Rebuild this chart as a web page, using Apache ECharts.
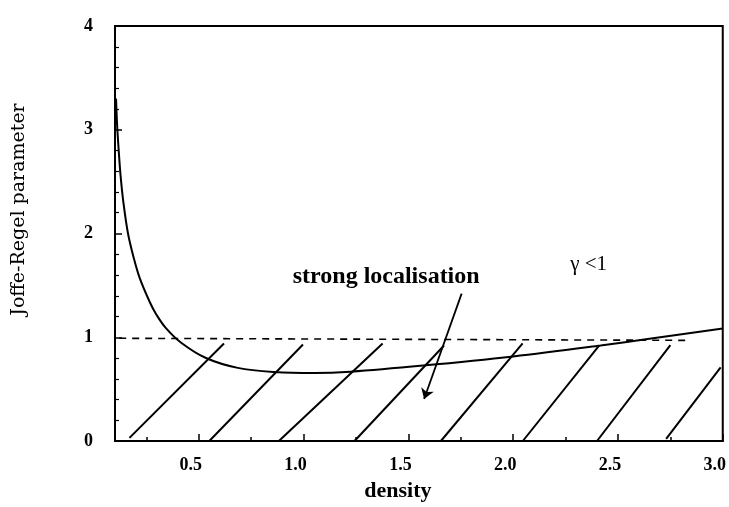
<!DOCTYPE html>
<html><head><meta charset="utf-8">
<script src="https://cdn.jsdelivr.net/npm/echarts@6/dist/echarts.min.js"></script>
<style>html,body{margin:0;padding:0;background:#fff}#c{width:729px;height:507px}</style>
</head><body><div id="c"></div>
<script>
// Joffe-Regel parameter versus density
const curveX = [0.105, 0.11, 0.117, 0.127, 0.14, 0.162, 0.19, 0.218, 0.268, 0.297, 0.342, 0.414, 0.534, 0.686, 0.86, 1.05, 1.224, 1.57, 2.0, 2.417, 2.65, 3.0];
const curveY = [3.3, 3.05, 2.82, 2.55, 2.3, 2.0, 1.76, 1.57, 1.33, 1.22, 1.09, 0.95, 0.8, 0.705, 0.665, 0.655, 0.668, 0.727, 0.815, 0.92, 0.985, 1.085];

// gamma = 1 criterion (dashed)
const criterionX = [0.12, 2.83];
const criterionY = [0.99, 0.97];

// hatching of the strong-localisation region
const hatchX0 = [0.169, 0.55, 0.882, 1.243, 1.655, 2.046, 2.40, 2.73];
const hatchY0 = [0.03, 0, 0, 0, 0, 0, 0, 0.02];
const hatchX1 = [0.62, 0.997, 1.377, 1.67, 2.045, 2.41, 2.75, 2.99];
const hatchY1 = [0.94, 0.93, 0.94, 0.92, 0.94, 0.92, 0.925, 0.71];

// annotation arrow (from, to)
const arrowFrom = [1.754, 1.42];
const arrowTo = [1.575, 0.405];

// annotation texts and anchors
const noteText = ['strong localisation', 'γ <1'];
const noteX = [1.394, 2.36];
const noteY = [1.58, 1.70];
const noteBold = [true, false];
const noteSize = [24, 21];

const xTicks = [0.5, 1.0, 1.5, 2.0, 2.5, 3.0];
const xMinorTicks = [0.25, 0.75, 1.25, 1.75, 2.25, 2.75];

const serif = '"Liberation Serif", "Times New Roman", serif';
const chart = echarts.init(document.getElementById('c'));

const hatchData = hatchX0.map((x, i) => ({ coords: [[x, hatchY0[i]], [hatchX1[i], hatchY1[i]]] }));

chart.setOption({
  animation: false,
  backgroundColor: '#fff',
  grid: { left: 115, right: 5, top: 26, bottom: 54, show: true, borderColor: '#000', borderWidth: 2 },
  xAxis: [{
    type: 'value', min: 0.1, max: 3.0,
    axisLine: { show: true, lineStyle: { color: '#000', width: 2 } },
    axisTick: { show: true, inside: true, length: 7, customValues: xTicks, lineStyle: { color: '#000', width: 1.5 } },
    axisLabel: { customValues: xTicks, formatter: v => v.toFixed(1), color: '#000', fontFamily: serif, fontWeight: 'bold', fontSize: 18, margin: 15, padding: [0, 16, 0, 0] },
    splitLine: { show: false },
    name: 'density', nameLocation: 'middle', nameGap: 39,
    nameTextStyle: { color: '#000', fontFamily: serif, fontWeight: 'bold', fontSize: 22, padding: [0, 42, 0, 0] }
  }, {
    type: 'value', min: 0.1, max: 3.0, position: 'bottom',
    axisLine: { show: false },
    axisTick: { show: true, inside: true, length: 4, customValues: xMinorTicks, lineStyle: { color: '#000', width: 1.5 } },
    axisLabel: { show: false },
    splitLine: { show: false }
  }],
  yAxis: {
    type: 'value', min: 0, max: 4, interval: 1,
    axisLine: { show: true, lineStyle: { color: '#000', width: 2 } },
    axisTick: { show: true, inside: true, length: 7, lineStyle: { color: '#000', width: 1.5 } },
    minorTick: { show: true, splitNumber: 5, length: 4, lineStyle: { color: '#000', width: 1.2 } },
    axisLabel: { color: '#000', fontFamily: serif, fontWeight: 'bold', fontSize: 18, margin: 22 },
    splitLine: { show: false },
    name: 'Joffe-Regel parameter', nameLocation: 'middle', nameGap: 86, nameRotate: 90,
    nameTextStyle: { color: '#000', fontFamily: '"DejaVu Serif", serif', fontSize: 19, padding: [0, 0, 0, 48] }
  },
  series: [{
    type: 'line', smooth: 0.35, showSymbol: false,
    data: curveX.map((x, i) => [x, curveY[i]]),
    lineStyle: { color: '#000', width: 2 }
  }, {
    type: 'line', showSymbol: false,
    data: criterionX.map((x, i) => [x, criterionY[i]]),
    lineStyle: { color: '#000', width: 1.6, type: [7, 6] }
  }, {
    type: 'lines', coordinateSystem: 'cartesian2d',
    data: hatchData,
    lineStyle: { color: '#000', width: 2, opacity: 1 }
  }, {
    type: 'lines', coordinateSystem: 'cartesian2d',
    symbol: ['none', 'arrow'], symbolSize: [0, 10],
    data: [{ coords: [arrowFrom, arrowTo] }],
    lineStyle: { color: '#000', width: 1.8, opacity: 1 }
  }, {
    // text annotations placed at data coordinates
    type: 'custom', coordinateSystem: 'cartesian2d', silent: true,
    data: noteText.map((t, i) => [noteX[i], noteY[i], i]),
    renderItem: (params, api) => {
      const i = api.value(2);
      const p = api.coord([api.value(0), api.value(1)]);
      return {
        type: 'text', x: p[0], y: p[1],
        style: {
          text: noteText[i], fill: '#000', align: 'center', verticalAlign: 'middle',
          font: (noteBold[i] ? 'bold ' : '') + noteSize[i] + 'px ' + serif
        }
      };
    }
  }]
});
</script>
</body></html>
